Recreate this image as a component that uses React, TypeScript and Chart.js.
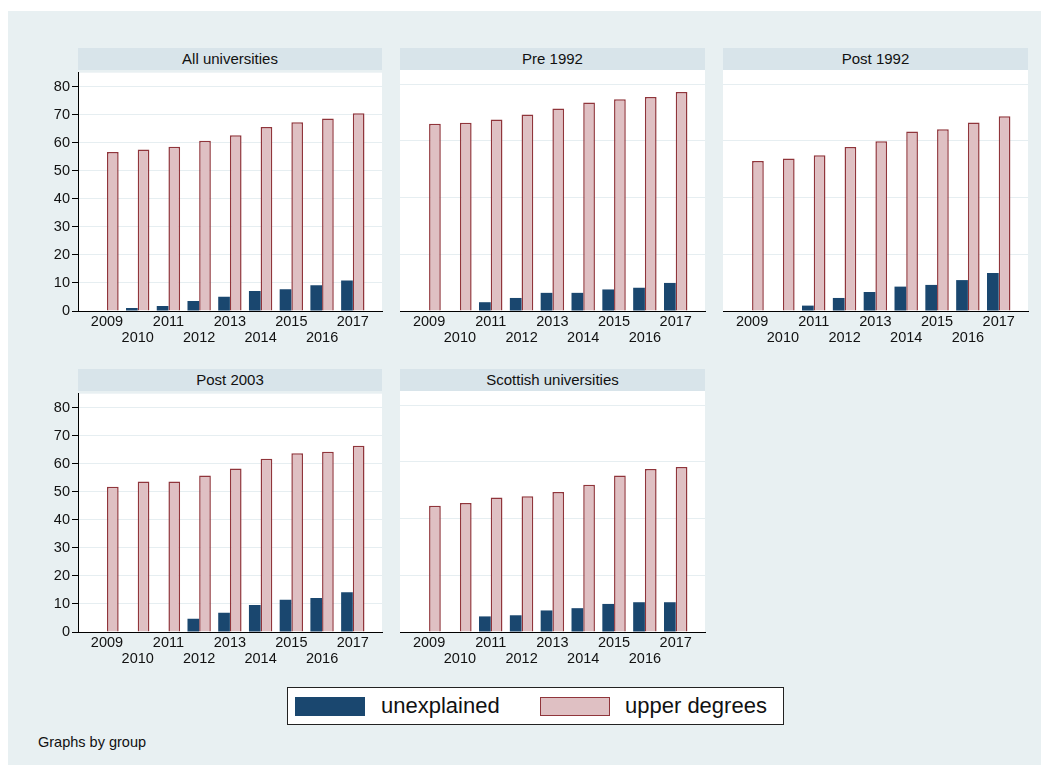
import React, { useEffect, useRef } from "react";
import { Chart, registerables } from "chart.js";

Chart.register(...registerables);

const FONT = "'Liberation Sans', Arial, Helvetica, sans-serif";

// ---------- data ----------
const years = [2009, 2010, 2011, 2012, 2013, 2014, 2015, 2016, 2017];
const seriesNames = ["unexplained", "upper degrees"];
const panelTitles = ["All universities", "Pre 1992", "Post 1992", "Post 2003", "Scottish universities"];

const unexplainedAll = [null, 1.1, 1.8, 3.6, 5.1, 7.1, 7.8, 9.2, 10.9];
const upperAll = [56.7, 57.6, 58.6, 60.7, 62.7, 65.6, 67.3, 68.7, 70.5];

const unexplainedPre1992 = [null, null, 3.1, 4.6, 6.4, 6.4, 7.6, 8.2, 9.9];
const upperPre1992 = [66.0, 66.4, 67.5, 69.3, 71.4, 73.5, 74.7, 75.5, 77.2];

const unexplainedPost1992 = [null, null, 1.9, 4.6, 6.7, 8.6, 9.2, 10.9, 13.4];
const upperPost1992 = [52.9, 53.8, 54.9, 57.8, 59.9, 63.3, 64.1, 66.5, 68.7];

const unexplainedPost2003 = [null, null, null, 4.7, 6.9, 9.6, 11.5, 12.1, 14.2];
const upperPost2003 = [51.8, 53.7, 53.7, 55.8, 58.3, 61.8, 63.8, 64.3, 66.4];

const unexplainedScottish = [null, null, 5.5, 5.9, 7.6, 8.4, 9.9, 10.5, 10.5];
const upperScottish = [44.5, 45.5, 47.4, 47.9, 49.4, 51.9, 55.2, 57.5, 58.2];

const yTicksLabelled = [0, 10, 20, 30, 40, 50, 60, 70, 80];
const yTicksGrid = [0, 20, 40, 60, 80];

// ---------- style ----------
const NAVY = "#1a476f";
const PINK_FILL = "#dfc0c3";
const MAROON = "#90353b";
const BG = "#e8f0f2";
const STRIP = "#d8e4ea";
const GRID = "#e6eef1";

const plotBg = {
  id: "plotBg",
  beforeDraw(chart: any) {
    const { ctx, chartArea: a } = chart;
    ctx.save();
    ctx.fillStyle = "#ffffff";
    ctx.fillRect(a.left, a.top, a.right - a.left, a.bottom - a.top);
    ctx.restore();
  },
};

type PanelProps = {
  title: string;
  unexplained: (number | null)[];
  upper: number[];
  left: number;
  top: number;
  showY: boolean;
};

function Panel({ title, unexplained, upper, left, top, showY }: PanelProps) {
  const ref = useRef<HTMLCanvasElement | null>(null);
  const width = showY ? 360 : 321;
  const height = 290;
  const yWidth = showY ? 48 : 0;
  const padLeft = showY ? 0 : 8;

  useEffect(() => {
    if (!ref.current) return;
    const chart = new Chart(ref.current, {
      type: "bar",
      data: {
        datasets: [
          {
            label: seriesNames[0],
            data: years.map((yr, i) => ({ x: yr, y: unexplained[i] })),
            backgroundColor: NAVY,
            borderWidth: 0,
          },
          {
            label: seriesNames[1],
            data: years.map((yr, i) => ({ x: yr, y: upper[i] })),
            backgroundColor: PINK_FILL,
            borderColor: MAROON,
            borderWidth: 1.5,
          },
        ],
      } as any,
      options: {
        animation: false,
        responsive: false,
        devicePixelRatio: 1,
        datasets: { bar: { categoryPercentage: 0.76, barPercentage: 1 } } as any,
        layout: { padding: { left: padLeft, right: 8, top: 8, bottom: 0 } },
        plugins: { legend: { display: false }, tooltip: { enabled: false }, title: { display: false } },
        scales: {
          x: {
            type: "linear",
            min: 2008.057,
            max: 2017.95,
            offset: false,
            grid: { display: false, drawTicks: false },
            border: { display: true, color: "#000", width: 1 },
            afterBuildTicks: (s: any) => {
              s.ticks = years.map((v) => ({ value: v }));
            },
            afterFit: (s: any) => {
              s.height = 41;
            },
            ticks: {
              autoSkip: false,
              maxRotation: 0,
              minRotation: 0,
              padding: 3,
              color: "#111",
              font: { family: FONT, size: 14.5, lineHeight: 1.1 },
              callback: (v: any) => {
                const i = years.indexOf(Number(v));
                return i % 2 === 0 ? [String(v)] : ["", String(v)];
              },
            },
          },
          y: {
            min: 0,
            max: 85,
            afterBuildTicks: (s: any) => {
              s.ticks = (showY ? yTicksLabelled : yTicksGrid).map((v) => ({ value: v }));
            },
            afterFit: (s: any) => {
              s.width = yWidth;
            },
            grid: {
              color: GRID,
              lineWidth: 1,
              drawTicks: showY,
              tickLength: 6,
              tickColor: "#000",
            },
            border: { display: showY, color: "#000", width: 1 },
            ticks: {
              display: showY,
              padding: 2,
              color: "#111",
              font: { family: FONT, size: 14.5 },
            },
          },
        } as any,
      },
      plugins: [plotBg],
    });
    return () => chart.destroy();
  }, []);

  const areaLeft = left + padLeft + yWidth;
  const areaRight = left + width - 8;
  return (
    <>
      <div
        style={{
          position: "absolute",
          left: areaLeft,
          top: top - 14,
          width: areaRight - areaLeft,
          height: 22,
          background: STRIP,
          fontFamily: FONT,
          fontSize: 15,
          lineHeight: "22px",
          textAlign: "center",
          color: "#111",
        }}
      >
        {title}
      </div>
      <canvas
        ref={ref}
        width={width}
        height={height}
        style={{ position: "absolute", left, top, width, height }}
      />
    </>
  );
}

export default function App() {
  return (
    <div style={{ position: "absolute", left: 0, top: 0, width: 1049, height: 773 }}>
      <div style={{ position: "absolute", left: 8, top: 11, width: 1033, height: 754, background: BG }} />
      <Panel title={panelTitles[0]} unexplained={unexplainedAll} upper={upperAll} left={30} top={62} showY />
      <Panel title={panelTitles[1]} unexplained={unexplainedPre1992} upper={upperPre1992} left={392} top={62} showY={false} />
      <Panel title={panelTitles[2]} unexplained={unexplainedPost1992} upper={upperPost1992} left={715} top={62} showY={false} />
      <Panel title={panelTitles[3]} unexplained={unexplainedPost2003} upper={upperPost2003} left={30} top={383} showY />
      <Panel title={panelTitles[4]} unexplained={unexplainedScottish} upper={upperScottish} left={392} top={383} showY={false} />

      <div
        style={{
          position: "absolute",
          left: 287,
          top: 687,
          width: 495,
          height: 36,
          background: "#fff",
          border: "1px solid #222",
          fontFamily: FONT,
          fontSize: 22,
          color: "#111",
        }}
      >
        <div style={{ position: "absolute", left: 7, top: 9, width: 70, height: 19, background: NAVY }} />
        <div style={{ position: "absolute", left: 93, top: 0, lineHeight: "36px" }}>{seriesNames[0]}</div>
        <div
          style={{
            position: "absolute",
            left: 252,
            top: 9,
            width: 68,
            height: 17,
            background: PINK_FILL,
            border: `1px solid ${MAROON}`,
          }}
        />
        <div style={{ position: "absolute", left: 337, top: 0, lineHeight: "36px" }}>{seriesNames[1]}</div>
      </div>

      <div
        style={{
          position: "absolute",
          left: 38,
          top: 733,
          fontFamily: FONT,
          fontSize: 14.5,
          lineHeight: "18px",
          color: "#111",
        }}
      >
        Graphs by group
      </div>
    </div>
  );
}
